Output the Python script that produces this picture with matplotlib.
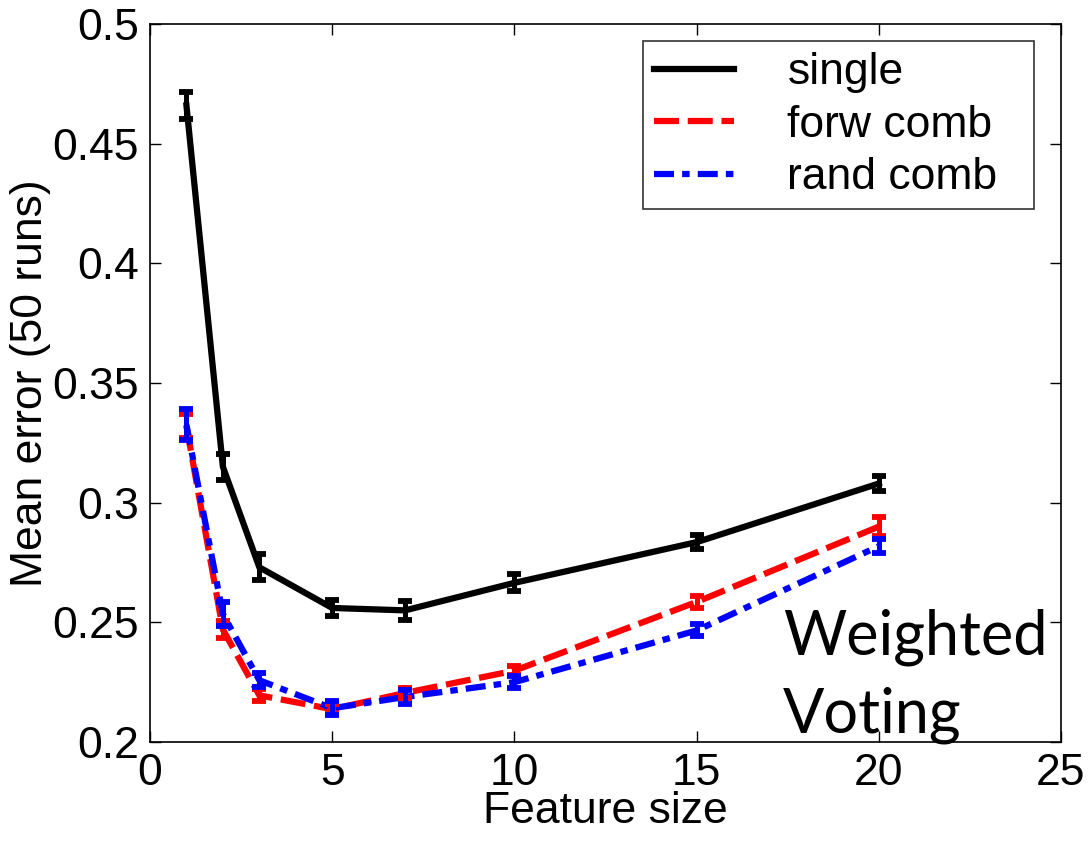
import matplotlib
matplotlib.use("Agg")
import matplotlib.pyplot as plt

# ---- data ----
feature_size = [1, 2, 3, 5, 7, 10, 15, 20]
single = [0.466, 0.315, 0.273, 0.256, 0.255, 0.2665, 0.2835, 0.308]
single_err = [0.0055, 0.0055, 0.0055, 0.0035, 0.0040, 0.0035, 0.0030, 0.0030]
forw_comb = [0.332, 0.247, 0.2195, 0.2137, 0.2205, 0.2298, 0.2585, 0.290]
forw_err = [0.0050, 0.0035, 0.0025, 0.0020, 0.0020, 0.0020, 0.0025, 0.0040]
rand_comb = [0.3325, 0.2535, 0.2258, 0.2141, 0.2188, 0.2250, 0.2466, 0.2818]
rand_err = [0.0065, 0.0050, 0.0030, 0.0030, 0.0030, 0.0025, 0.0025, 0.0030]

series_labels = ["single", "forw comb", "rand comb"]
xticks = [0, 5, 10, 15, 20, 25]
yticks = [0.2, 0.25, 0.3, 0.35, 0.4, 0.45, 0.5]
ytick_labels = ["0.2", "0.25", "0.3", "0.35", "0.4", "0.45", "0.5"]

plt.rcParams['font.family'] = ['Liberation Sans', 'DejaVu Sans']

fig = plt.figure(figsize=(10.89, 8.43), dpi=100)
ax = fig.add_axes([150/1089, 1-742/843, (1061-150)/1089, (742-24)/843])

lw = 4.5
h1, = ax.plot(feature_size, single, color='black', lw=lw, linestyle='-', zorder=3)
h2, = ax.plot(feature_size, forw_comb, color='#ff0000', lw=lw,
              linestyle=(0, (4.0, 1.4)), zorder=3)
h3, = ax.plot(feature_size, rand_comb, color='#0000ff', lw=lw,
              linestyle=(0, (3.2, 1.3, 1.2, 1.3)), zorder=4)

eb = dict(fmt='none', elinewidth=3.6, capsize=5, capthick=4.2)
ax.errorbar(feature_size, single, yerr=single_err, ecolor='black', zorder=5, **eb)
ax.errorbar(feature_size, forw_comb, yerr=forw_err, ecolor='#ff0000', zorder=5, **eb)
ax.errorbar(feature_size, rand_comb, yerr=rand_err, ecolor='#0000ff', zorder=6, **eb)

ax.set_xlim(0, 25)
ax.set_ylim(0.2, 0.5)
ax.set_xticks(xticks)
ax.set_xticklabels([str(t) for t in xticks])
ax.set_yticks(yticks)
ax.set_yticklabels(ytick_labels)
ax.tick_params(direction='in', length=8, width=1, top=True, right=True,
               labelsize=32)
ax.tick_params(axis='x', pad=8)
ax.tick_params(axis='y', pad=8)
for s in ax.spines.values():
    s.set_linewidth(1.2)

ax.set_xlabel("Feature size", fontsize=32, labelpad=-2)
ax.set_ylabel("Mean error (50 runs)", fontsize=32, labelpad=1)

leg = ax.legend([h1, h2, h3], series_labels, loc='upper left',
                bbox_to_anchor=((643-150)/911, 0.5, 391/911, (742-41)/718 - 0.5),
                mode='expand', borderaxespad=0,
                fontsize=32, frameon=True, fancybox=False, edgecolor='black',
                handlelength=1.8, handletextpad=1.2, labelspacing=0.26,
                borderpad=0.25)
leg.get_frame().set_linewidth(1.2)

ax.text((783-150)/911, (742-733)/718, "Weighted\nVoting", transform=ax.transAxes,
        fontsize=44, family=['Lato', 'DejaVu Sans'], va='baseline', ha='left',
        linespacing=1.45)

fig.savefig("out.png", dpi=100)
